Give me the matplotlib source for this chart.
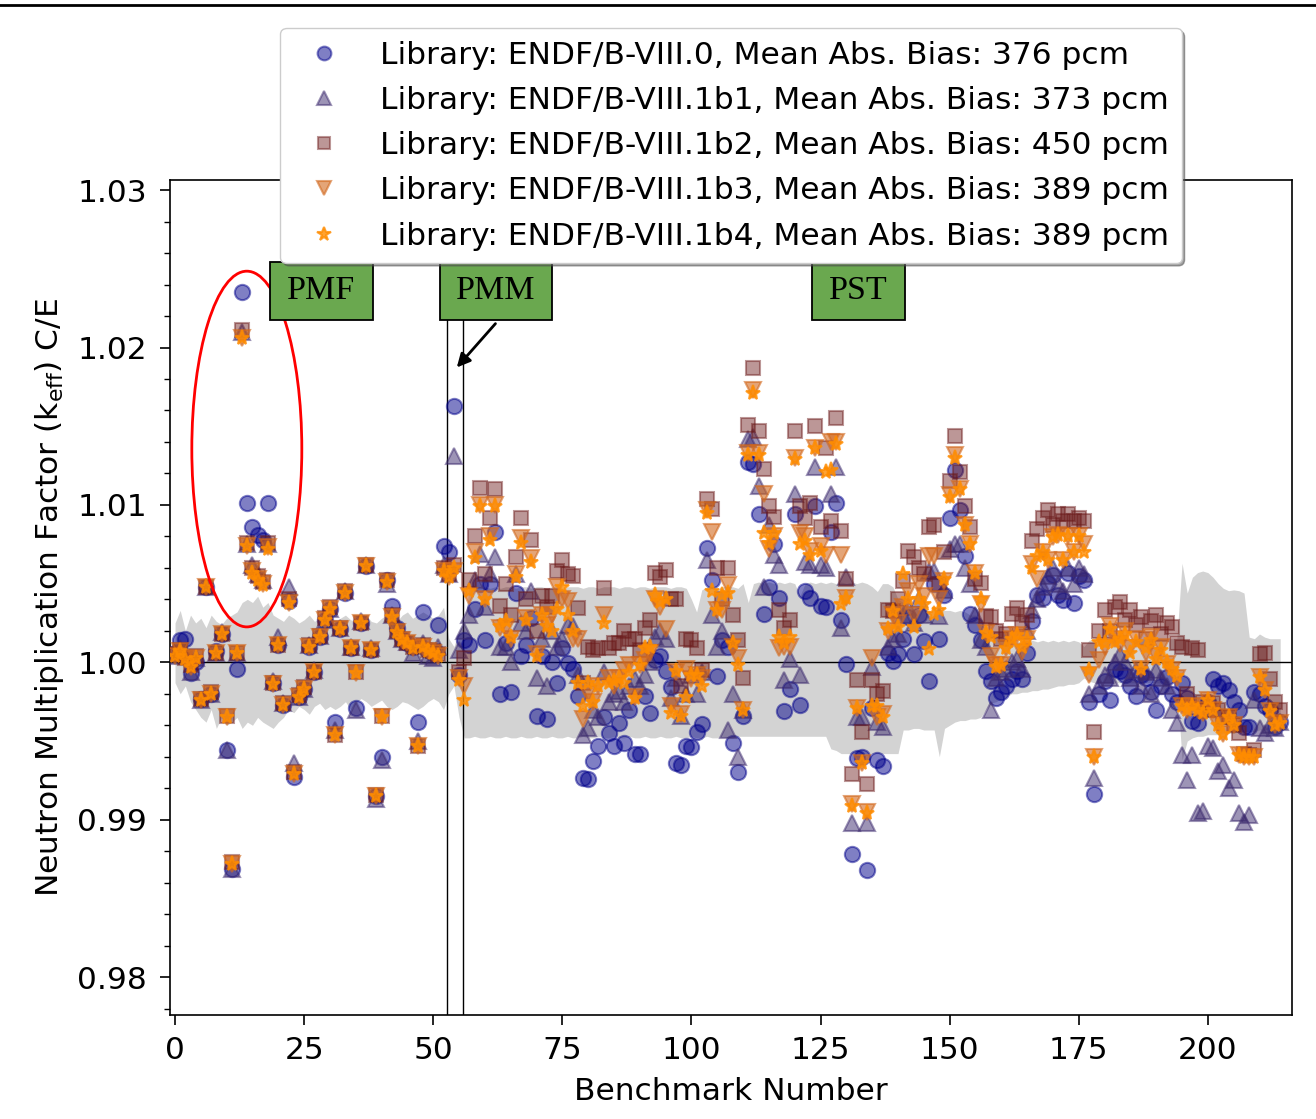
"""
C/E scatter of benchmark k-eff for the ENDF/B-VIII.0 and VIII.1 beta libraries
"""

import numpy as np
import matplotlib
matplotlib.use('Agg')
import matplotlib.pyplot as plt
from matplotlib.patches import Ellipse, Rectangle
from matplotlib.ticker import MultipleLocator, FormatStrFormatter

# bias from unity in pcm, one entry per benchmark (0..214)
bias_b80 = [
    60, 140, 150, -70, 0, -230, 480, -200, 70, 180,
    -560, -1310, -40, 2350, 1010, 860, 810, 780, 1010, -130,
    110, -270, 390, -730, -220, -170, 100, -60, 160, 270,
    340, -380, 210, 440, 90, -290, 250, 610, 80, -850,
    -600, 520, 360, 220, 150, 120, 100, -380, 320, 80,
    60, 240, 740, 700, 1630, -80, 140, 110, 340, 500,
    140, 500, 830, -200, 120, -190, 440, 40, 110, 280,
    -340, 40, -360, 0, -130, 90, -7, -40, -214, -738,
    -740, -630, -530, -350, -450, -530, -385, -510, -300, -580,
    -580, -214, -320, 17, 41, -56, -160, -640, -650, -530,
    -540, -440, -390, 725, 520, -90, 140, 100, -510, -700,
    -340, 1270, 1260, 940, 310, 480, 750, 410, -310, -170,
    940, -270, 450, 410, 990, 360, 350, 830, 1010, 270,
    -10, -1220, -610, -600, -1317, -290, -620, -660, 60, 10,
    50, 150, 286, 53, 300, 138, -117, 498, 150, 430,
    918, 1222, 966, 674, 309, 236, 139, -56, -117, -226,
    -190, -153, -105, -56, -105, 60, 260, 430, 406, 504,
    552, 430, 394, 565, 380, 550, 520, -250, -835, -202,
    -117, -238, -44, -56, -80, -150, -214, -80, -100, -190,
    -300, -150, -92, -200, -250, -129, -226, -372, -385, -300,
    -250, -105, -150, -129, -178, -250, -300, -409, -409, -190,
    -202, -275, -300, -409, -380,
]
bias_b1 = [
    40, 90, 60, -60, 30, -240, 480, -200, 60, 190,
    -560, -1310, 60, 2100, 750, 620, 560, 520, 750, -120,
    160, -260, 480, -640, -220, -170, 110, -50, 170, 270,
    340, -430, 220, 450, 100, -300, 260, 620, 90, -870,
    -620, 500, 300, 200, 150, 130, 60, -500, 120, 40,
    30, 100, 620, 560, 1310, 80, 200, 300, 520, 690,
    350, 560, 670, 100, 100, 0, 560, 250, 200, 450,
    -100, 150, -150, 200, 100, 150, 240, 230, -80, -460,
    -420, -300, -350, -60, -250, -200, -180, -250, -150, -105,
    -150, -80, 0, 163, 200, 150, -226, -100, -340, -200,
    -80, -200, -60, 650, 300, 100, 200, -430, -200, -600,
    -300, 1420, 1430, 1120, 480, 870, 680, 620, -110, 20,
    1070, -80, 640, 620, 1240, 620, 600, 1070, 1240, 220,
    545, -1020, -350, -350, -1020, -30, -380, -410, 100, 150,
    180, 300, 350, 250, 400, 300, 577, 583, 297, 460,
    723, 750, 750, 601, 500, 300, 139, 100, -300, -100,
    -60, -40, 0, 20, -44, 200, 333, 400, 480, 550,
    600, 500, 450, 600, 500, 600, 560, -200, -737, -150,
    -80, -100, 0, 50, 0, -100, -50, -150, -60, -200,
    -50, -100, -150, -300, -385, -591, -750, -591, -957, -945,
    -530, -543, -689, -652, -798, -750, -957, -1017, -969, -240,
    -420, -450, -400, -420, -380,
]
bias_b2 = [
    50, 80, 30, -20, 40, -230, 480, -190, 60, 180,
    -340, -1270, 60, 2110, 760, 600, 550, 510, 760, -130,
    110, -260, 400, -700, -210, -160, 110, -60, 170, 280,
    350, -460, 220, 450, 90, -60, 250, 620, 80, -840,
    -340, 520, 300, 200, 150, 120, 100, -530, 110, 80,
    70, 50, 600, 560, 620, -60, 30, 520, 800, 1110,
    560, 920, 1100, 360, 500, 300, 670, 920, 400, 780,
    200, 420, 350, 420, 580, 650, 560, 550, 345, -130,
    100, 80, 90, 470, 90, 120, 120, 200, 150, 150,
    80, 220, 270, 565, 540, 585, 400, 400, -150, 150,
    140, 90, -50, 1040, 975, 600, 400, 600, 300, 140,
    -100, 1510, 1870, 1470, 1230, 990, 925, 330, 220, 270,
    1470, 990, 920, 1010, 1500, 860, 1360, 900, 1550, 835,
    530, -712, -115, -443, -770, -115, -200, -180, 330, 329,
    400, 519, 710, 668, 600, 560, 859, 870, 500, 700,
    1149, 1441, 1210, 990, 857, 528, 504, 297, 285, 200,
    150, 180, 309, 345, 250, 300, 772, 845, 918, 966,
    870, 942, 900, 942, 900, 920, 900, 78, -445, 200,
    333, 200, 350, 382, 270, 333, 240, 285, 150, 260,
    300, 180, 250, 224, 120, 100, -200, 90, 78, -250,
    -300, -260, -300, -350, -350, -400, -450, -580, -591, -560,
    54, 60, -105, -250, -300,
]
bias_b3 = [
    40, 70, 20, -30, 30, -240, 480, -200, 60, 180,
    -350, -1280, 60, 2060, 740, 580, 530, 500, 730, -140,
    110, -270, 380, -710, -220, -170, 100, -60, 160, 270,
    340, -460, 210, 440, 90, -70, 250, 610, 80, -850,
    -350, 510, 290, 190, 140, 120, 90, -530, 100, 70,
    60, 40, 580, 540, 580, -100, -150, 420, 700, 1000,
    400, 800, 1000, 220, 220, 150, 560, 790, 280, 660,
    50, 300, 240, 300, 480, 400, 390, 150, 150, -360,
    -200, -250, -150, 300, -100, -150, -100, -50, -20, -220,
    -20, 17, 60, 400, 350, 212, -275, -60, -330, -40,
    -105, -80, -100, 966, 830, 330, 330, 490, 100, 30,
    -300, 1330, 1730, 1330, 1070, 720, 800, 90, 100, 100,
    1300, 820, 800, 710, 1360, 740, 680, 1400, 1400, 680,
    410, -903, -290, -640, -954, 30, -350, -330, 200, 300,
    250, 350, 450, 300, 500, 420, 678, 675, 400, 519,
    1064, 1320, 1100, 870, 750, 565, 370, 187, 41, -20,
    -20, 90, 150, 175, 66, 150, 625, 528, 700, 650,
    796, 808, 650, 800, 700, 800, 750, -80, -604, 17,
    100, 230, 150, 114, 200, 90, 150, -44, 60, 160,
    41, 100, -10, -50, -100, -275, -300, -275, -300, -324,
    -238, -300, -397, -457, -348, -397, -591, -600, -604, -600,
    -92, -178, -310, -397, -385,
]
bias_b4 = [
    40, 70, 20, -30, 30, -240, 480, -200, 60, 180,
    -350, -1280, 60, 2060, 740, 570, 520, 490, 720, -140,
    110, -270, 380, -710, -220, -170, 100, -60, 160, 270,
    340, -460, 210, 440, 90, -70, 250, 610, 80, -850,
    -350, 510, 290, 190, 140, 120, 90, -530, 100, 70,
    60, 40, 580, 540, 600, -110, -240, 450, 660, 990,
    400, 780, 990, 230, 260, 160, 540, 760, 270, 640,
    40, 300, 230, 200, 340, 480, 300, 200, -130, -275,
    -130, -250, -150, 250, -130, -120, -100, -130, -60, -226,
    -20, 90, 100, 430, 382, 400, -324, -56, -340, -220,
    -80, -80, -150, 950, 450, 330, 430, 440, 120, -20,
    -300, 1320, 1710, 1320, 820, 760, 820, 160, 120, 160,
    1290, 750, 770, 680, 1360, 710, 1210, 1220, 1390, 370,
    410, -910, -290, -640, -960, -280, -280, -350, 210, 329,
    223, 562, 403, 223, 400, 371, 85, 309, 333, 528,
    1050, 1300, 1100, 870, 750, 565, 400, 187, 163, -32,
    -20, 90, 150, 175, 100, 150, 601, 674, 700, 650,
    796, 808, 650, 800, 700, 800, 700, -50, -600, 127,
    120, 210, 130, 150, 180, 60, 130, -44, 90, 140,
    20, 80, 0, -40, -90, -275, -300, -275, -300, -324,
    -238, -300, -397, -457, -348, -397, -591, -600, -604, -600,
    -92, -178, -310, -397, -385,
]

# experimental uncertainty band (pcm)
unc_hi = [
    250, 330, 200, 300, 250, 280, 220, 300, 260, 240,
    280, 300, 320, 380, 400, 380, 420, 350, 380, 300,
    280, 260, 300, 280, 250, 270, 300, 260, 280, 300,
    270, 250, 280, 300, 270, 260, 280, 300, 260, 250,
    280, 300, 280, 260, 300, 320, 280, 300, 320, 300,
    280, 300, 350, 150, 100, 200, 250, 480, 480, 470,
    480, 470, 480, 470, 480, 480, 470, 480, 480, 470,
    480, 480, 470, 480, 480, 470, 480, 480, 480, 470,
    480, 480, 470, 480, 480, 480, 470, 480, 480, 470,
    480, 480, 470, 480, 480, 480, 470, 480, 480, 470,
    400, 320, 460, 480, 480, 470, 480, 480, 480, 470,
    500, 380, 500, 510, 500, 510, 500, 510, 500, 510,
    500, 420, 500, 510, 500, 510, 500, 510, 500, 510,
    500, 510, 500, 510, 500, 480, 450, 500, 500, 480,
    400, 380, 360, 350, 330, 340, 330, 330, 340, 330,
    330, 320, 330, 320, 300, 300, 260, 220, 180, 150,
    140, 130, 140, 130, 140, 130, 140, 130, 140, 130,
    140, 130, 140, 130, 140, 130, 100, 140, 150, 150,
    150, 150, 150, 150, 150, 150, 150, 150, 150, 150,
    150, 150, 150, 150, 150, 630, 440, 540, 570, 580,
    570, 540, 500, 470, 455, 460, 455, 440, 160, 150,
    180, 160, 150, 150, 150,
]
unc_lo = [
    -130, -200, -150, -250, -300, -350, -380, -300, -420, -350,
    -400, -380, -350, -420, -380, -400, -350, -380, -400, -420,
    -380, -350, -300, -320, -280, -300, -330, -280, -260, -300,
    -280, -300, -280, -250, -300, -260, -230, -250, -280, -260,
    -240, -280, -300, -280, -250, -260, -280, -300, -280, -250,
    -230, -250, -300, -200, -150, -350, -480, -480, -470, -480,
    -480, -470, -480, -480, -470, -480, -480, -470, -480, -480,
    -470, -480, -480, -470, -480, -480, -470, -480, -480, -470,
    -480, -480, -470, -480, -480, -470, -480, -480, -470, -480,
    -480, -470, -480, -480, -470, -480, -480, -470, -480, -480,
    -470, -480, -480, -470, -480, -480, -470, -480, -480, -470,
    -470, -470, -470, -470, -470, -470, -470, -470, -470, -470,
    -470, -470, -470, -470, -470, -470, -470, -550, -560, -580,
    -580, -580, -580, -580, -580, -580, -580, -580, -580, -580,
    -580, -430, -430, -420, -420, -430, -430, -430, -600, -420,
    -400, -380, -370, -370, -360, -360, -350, -300, -260, -250,
    -230, -220, -200, -200, -190, -190, -180, -180, -170, -170,
    -160, -150, -150, -140, -140, -130, -100, -120, -130, -130,
    -130, -130, -130, -130, -130, -130, -130, -130, -130, -130,
    -130, -130, -130, -130, -130, -620, -500, -480, -470, -470,
    -460, -460, -460, -450, -450, -450, -440, -440, -440, -440,
    -430, -430, -420, -420, -420,
]

LIBS = [
    ('ENDF/B-VIII.0', 376, bias_b80, 'o', 'darkblue', 0.5, 11),
    ('ENDF/B-VIII.1b1', 373, bias_b1, '^', '#3c2a6e', 0.5, 11),
    ('ENDF/B-VIII.1b2', 450, bias_b2, 's', '#6b1a1a', 0.45, 10),
    ('ENDF/B-VIII.1b3', 389, bias_b3, 'v', '#d2691e', 0.6, 11),
    ('ENDF/B-VIII.1b4', 389, bias_b4, '*', '#ff8c00', 0.8, 11),
]

# suite tag boxes: label, x-left, x-right (benchmark units)
SUITES = [('PMF', 18.4, 38.3), ('PMM', 51.3, 73.0), ('PST', 123.4, 141.4)]
TAG_Y = (1.02175, 1.02544)
PMM_EDGES = [52.7, 55.8]

FS = 22.5


def to_ce(pcm):
    return 1.0 + np.asarray(pcm, dtype=float) * 1e-5


fig = plt.figure(figsize=(13.16, 11.19), dpi=100)
ax = fig.add_axes([0.1292, 0.0929, 0.8526, 0.7462])

xb = np.arange(len(unc_hi))
ax.fill_between(xb, to_ce(unc_lo), to_ce(unc_hi), color='#d3d3d3', lw=0, zorder=1)
ax.axhline(1.0, color='black', lw=1, zorder=2)
for xv in PMM_EDGES:
    ax.axvline(xv, color='black', lw=1, zorder=2)

for name, mab, vals, mk, col, alpha, ms in LIBS:
    ax.plot(np.arange(len(vals)), to_ce(vals), linestyle='none', marker=mk,
            color=col, alpha=alpha, markersize=ms, markeredgewidth=1.5,
            label='Library: %s, Mean Abs. Bias: %d pcm' % (name, mab), zorder=3)

# suite tags
for tag, x0, x1 in SUITES:
    ax.add_patch(Rectangle((x0, TAG_Y[0]), x1 - x0, TAG_Y[1] - TAG_Y[0],
                           facecolor='#6aa84f', edgecolor='black', lw=1.3, zorder=6))
    ax.text((x0 + x1) / 2, sum(TAG_Y) / 2, tag, ha='center', va='center',
            fontsize=24.5, family='Liberation Serif', zorder=7)

ax.annotate('', xy=(54.2, 1.0186), xytext=(62.4, 1.02165),
            arrowprops=dict(arrowstyle='-|>', color='black', lw=2,
                            mutation_scale=20), zorder=6)

ax.add_patch(Ellipse((13.9, 1.01355), width=21.3, height=0.0226,
                     fill=False, edgecolor='red', lw=2, zorder=5))

ax.set_xlim(-0.97, 216.3)
ax.set_ylim(0.97759, 1.03064)
ax.xaxis.set_major_locator(MultipleLocator(25))
ax.yaxis.set_major_locator(MultipleLocator(0.01))
ax.yaxis.set_minor_locator(MultipleLocator(0.002))
ax.yaxis.set_major_formatter(FormatStrFormatter('%.2f'))
ax.tick_params(axis='both', which='major', labelsize=FS, length=7, width=1.2)
ax.tick_params(axis='y', which='major', pad=9.5)
ax.tick_params(axis='x', which='major', pad=8)
ax.tick_params(axis='both', which='minor', length=4, width=1)
for sp in ax.spines.values():
    sp.set_linewidth(1.2)

ax.set_xlabel('Benchmark Number', fontsize=FS, labelpad=9)
ax.set_ylabel(r'Neutron Multiplication Factor (k$_{\rm eff}$) C/E', fontsize=FS, labelpad=8)

leg = ax.legend(loc='upper center', bbox_to_anchor=(0.5, 1.182), borderaxespad=0,
                fontsize=FS, shadow=True, fancybox=True, framealpha=1,
                markerscale=0.9, labelspacing=0.52)
leg.set_zorder(10)

fig.add_artist(plt.Line2D([0, 1], [0.9955, 0.9955], transform=fig.transFigure,
                          color='black', lw=2))

plt.savefig('out.png', dpi=100)
plt.close()
